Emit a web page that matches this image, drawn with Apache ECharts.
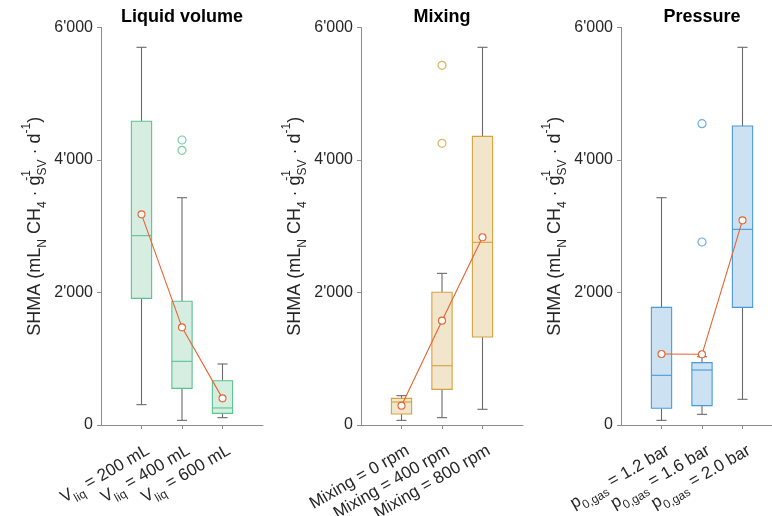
<!DOCTYPE html>
<html>
<head>
<meta charset="utf-8">
<script src="https://cdn.jsdelivr.net/npm/echarts@6/dist/echarts.min.js"></script>
<style>
  html, body { margin: 0; padding: 0; background: #fff; }
  #chart { width: 772px; height: 516px; }
</style>
</head>
<body>
<div id="chart"></div>
<script>
// ---- Panel titles ----
const panelTitles = ['Liquid volume', 'Mixing', 'Pressure'];

// ---- Category tick labels (rich-text markup for subscripts) ----
const volumeLabels   = ['V{sub|liq} = 200 mL', 'V{sub|liq} = 400 mL', 'V{sub|liq} = 600 mL'];
const mixingLabels   = ['Mixing = 0 rpm', 'Mixing = 400 rpm', 'Mixing = 800 rpm'];
const pressureLabels = ['p{sub|0,gas} = 1.2 bar', 'p{sub|0,gas} = 1.6 bar', 'p{sub|0,gas} = 2.0 bar'];

// ---- Box statistics: [lower whisker, Q1, median, Q3, upper whisker] ----
const volumeBoxes   = [[307, 1912, 2858, 4584, 5701], [70, 553, 961, 1867, 3431], [111, 176, 257, 669, 921]];
const mixingBoxes   = [[70, 166, 347, 402, 443], [111, 538, 895, 2003, 2289], [237, 1328, 2757, 4357, 5701]];
const pressureBoxes = [[70, 252, 750, 1776, 3431], [161, 292, 830, 941, 1031], [388, 1776, 2953, 4513, 5701]];

// ---- Group means ----
const volumeMeans   = [3180, 1474, 402];
const mixingMeans   = [292, 1575, 2833];
const pressureMeans = [1072, 1067, 3089];

// ---- Outliers per group ----
const volumeOutliers   = [[], [4302, 4146], []];
const mixingOutliers   = [[], [5429, 4252], []];
const pressureOutliers = [[], [4548, 2762], []];

// ---- Y axis ticks ----
const yTicks = [0, 2000, 4000, 6000];

const FONT = '"Liberation Sans", Arial, Helvetica, sans-serif';
const TEXT = '#262626';
const AXIS = '#8c8c8c';
const WHISKER = '#6a6a6a';
const MEAN = '#e8632f';

const gridLefts = [101, 361, 621];
const GRID_WIDTH = 162;

const panels = [
  { labels: volumeLabels,   boxes: volumeBoxes,   means: volumeMeans,   outliers: volumeOutliers,   edge: '#5cc28f', fill: '#d6eee1' },
  { labels: mixingLabels,   boxes: mixingBoxes,   means: mixingMeans,   outliers: mixingOutliers,   edge: '#d5a33c', fill: '#f1e5cb' },
  { labels: pressureLabels, boxes: pressureBoxes, means: pressureMeans, outliers: pressureOutliers, edge: '#4a9ad6', fill: '#cce1f2' }
];

function thousands(v) {
  return String(v).replace(/\B(?=(\d{3})+(?!\d))/g, "'");
}

function boxRenderer(edge, fill) {
  return function (params, api) {
    const x = api.value(0);
    const lo = api.coord([x, api.value(1)]);
    const q1 = api.coord([x, api.value(2)]);
    const md = api.coord([x, api.value(3)]);
    const q3 = api.coord([x, api.value(4)]);
    const hi = api.coord([x, api.value(5)]);
    const unit = api.size([1, 0])[0];
    const half = unit * 0.25;
    const cap = unit * 0.125;
    const cx = lo[0];
    const ws = { stroke: WHISKER, lineWidth: 1.1 };
    return {
      type: 'group',
      children: [
        { type: 'line', shape: { x1: cx, y1: hi[1], x2: cx, y2: q3[1] }, style: ws },
        { type: 'line', shape: { x1: cx, y1: q1[1], x2: cx, y2: lo[1] }, style: ws },
        { type: 'line', shape: { x1: cx - cap, y1: hi[1], x2: cx + cap, y2: hi[1] }, style: ws },
        { type: 'line', shape: { x1: cx - cap, y1: lo[1], x2: cx + cap, y2: lo[1] }, style: ws },
        { type: 'rect', shape: { x: cx - half, y: q3[1], width: 2 * half, height: q1[1] - q3[1] },
          style: { fill: fill, stroke: edge, lineWidth: 1.1 } },
        { type: 'line', shape: { x1: cx - half, y1: md[1], x2: cx + half, y2: md[1] },
          style: { stroke: edge, lineWidth: 1.1 } }
      ]
    };
  };
}

const grids = [], xAxes = [], yAxes = [], titles = [], series = [];

panels.forEach((p, i) => {
  grids.push({
    left: gridLefts[i], top: 27.5, width: GRID_WIDTH, height: 397.5,
    containLabel: false, outerBoundsMode: 'none'
  });

  titles.push({
    text: panelTitles[i],
    left: gridLefts[i] + GRID_WIDTH / 2, top: 8, textAlign: 'center', padding: 0,
    textStyle: { fontFamily: FONT, fontSize: 18, fontWeight: 'bold', color: '#000' }
  });

  // Padding categories at both ends keep the groups at 1..3 on a 0..4 span
  xAxes.push({
    type: 'category', gridIndex: i, boundaryGap: false,
    data: [''].concat(p.labels, ['']),
    axisLine: { show: true, lineStyle: { color: AXIS, width: 1 } },
    axisTick: { show: true, length: 4, interval: (idx) => idx >= 1 && idx <= p.labels.length, lineStyle: { color: AXIS } },
    axisLabel: {
      interval: 0, rotate: 30, margin: 13, verticalAlign: 'top', align: 'right',
      fontFamily: FONT, fontSize: 17, color: TEXT, lineHeight: 26,
      rich: { sub: { fontFamily: FONT, fontSize: 12, lineHeight: 12, verticalAlign: 'bottom', color: TEXT } }
    },
    splitLine: { show: false }
  });

  yAxes.push({
    type: 'value', gridIndex: i, min: yTicks[0], max: yTicks[yTicks.length - 1],
    interval: yTicks[1] - yTicks[0],
    axisLine: { show: true, lineStyle: { color: AXIS, width: 1 } },
    axisTick: { show: true, length: 4, lineStyle: { color: AXIS } },
    axisLabel: { fontFamily: FONT, fontSize: 16, color: TEXT, margin: 8, formatter: thousands },
    splitLine: { show: false },
    name: 'SHMA (mL{sub|N} CH{sub|4} · g{sups|-1}{sub|SV} · d{sup|-1})',
    nameLocation: 'middle', nameGap: 52,
    nameTextStyle: {
      fontFamily: FONT, fontSize: 18, color: TEXT, lineHeight: 28,
      rich: {
        sub:  { fontFamily: FONT, fontSize: 12, lineHeight: 12, verticalAlign: 'bottom', color: TEXT },
        sup:  { fontFamily: FONT, fontSize: 12, lineHeight: 12, verticalAlign: 'top', color: TEXT },
        sups: { fontFamily: FONT, fontSize: 12, lineHeight: 12, verticalAlign: 'top', color: TEXT, width: 0 }
      }
    }
  });

  series.push({
    type: 'custom', xAxisIndex: i, yAxisIndex: i,
    renderItem: boxRenderer(p.edge, p.fill),
    encode: { x: 0, y: [1, 2, 3, 4, 5] },
    data: p.boxes.map((b, k) => [k + 1].concat(b)),
    silent: true, z: 2
  });

  const outPts = [];
  p.outliers.forEach((vals, k) => vals.forEach(v => outPts.push([k + 1, v])));
  series.push({
    type: 'scatter', xAxisIndex: i, yAxisIndex: i,
    data: outPts, symbol: 'circle', symbolSize: 8,
    itemStyle: { color: 'rgba(255,255,255,0)', borderColor: p.edge, borderWidth: 1.2 },
    silent: true, z: 3
  });

  series.push({
    type: 'line', xAxisIndex: i, yAxisIndex: i,
    data: p.means.map((m, k) => [k + 1, m]),
    symbol: 'circle', symbolSize: 7, showSymbol: true,
    lineStyle: { color: MEAN, width: 1.1 },
    itemStyle: { color: '#fff', borderColor: MEAN, borderWidth: 1.1 },
    silent: true, z: 4
  });
});

const chart = echarts.init(document.getElementById('chart'), null, { renderer: 'canvas' });
chart.setOption({
  animation: false,
  backgroundColor: '#fff',
  title: titles,
  grid: grids,
  xAxis: xAxes,
  yAxis: yAxes,
  series: series
});
</script>
</body>
</html>
